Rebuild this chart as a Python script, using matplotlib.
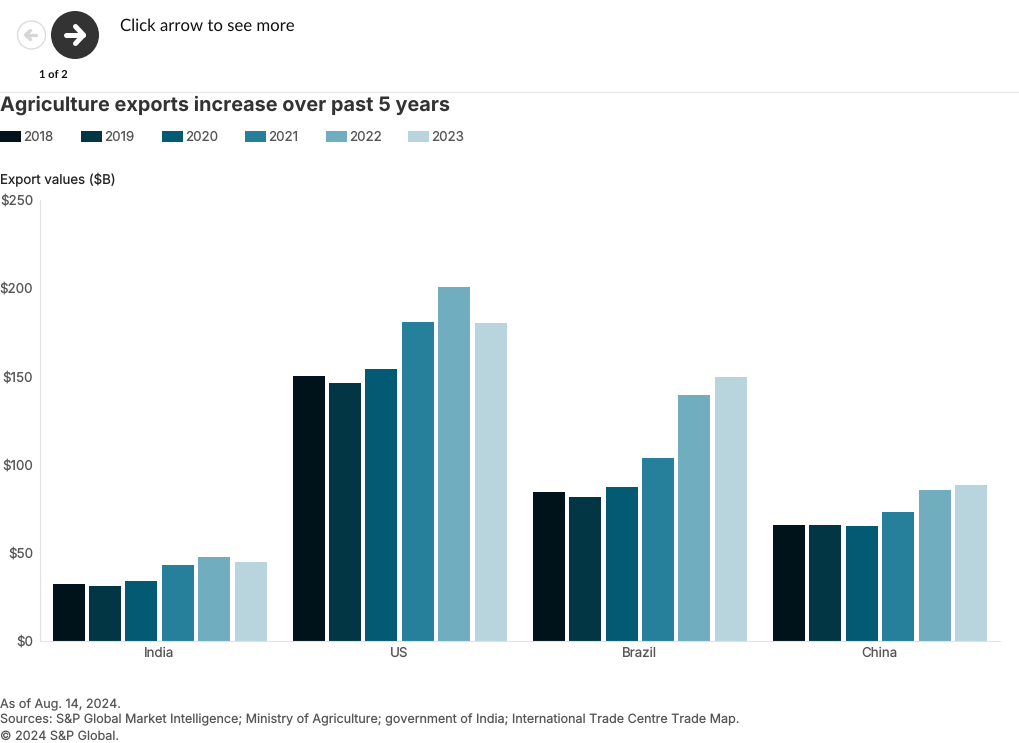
import numpy as np
import matplotlib
matplotlib.use('Agg')
import matplotlib.pyplot as plt
from matplotlib.patches import Circle, Rectangle

# ----- Data -----
countries = ['India', 'US', 'Brazil', 'China']
years = ['2018', '2019', '2020', '2021', '2022', '2023']
v2018 = [32.3, 149.8, 84.5, 65.7]
v2019 = [31.0, 146.0, 81.3, 65.7]
v2020 = [33.7, 154.0, 87.0, 65.0]
v2021 = [43.0, 180.5, 103.4, 73.0]
v2022 = [47.5, 200.3, 139.5, 85.6]
v2023 = [44.7, 180.0, 149.5, 88.3]
series = [v2018, v2019, v2020, v2021, v2022, v2023]
colors = ['#00131b', '#023645', '#025a73', '#26809c', '#6fadbf', '#b8d5de']
y_ticks = [0, 50, 100, 150, 200, 250]

W, H = 1020, 743
plt.rcParams['font.family'] = ['Inter', 'DejaVu Sans']
plt.rcParams['text.hinting'] = 'none'
fig = plt.figure(figsize=(W / 100, H / 100), dpi=100)

# ----- Bars -----
ax = fig.add_axes([39.5 / W, 1 - 641 / H, 960.5 / W, 441.5 / H])
x = np.arange(len(countries))
step = 36.4 / 240
width = 32 / 240
for i, vals in enumerate(series):
    ax.bar(x + (i - 2.5) * step, vals, width=width, color=colors[i], zorder=2)
ax.set_xlim(-0.5, 3.5)
ax.set_ylim(0, 250)
ax.set_xticks(x, countries)
ax.set_yticks(y_ticks, [f'${t}' for t in y_ticks])
ax.tick_params(axis='both', length=0, labelsize=9.6, labelcolor='#555555')
ax.tick_params(axis='x', pad=4)
ax.tick_params(axis='y', pad=4.5)
for s in ['top', 'right']:
    ax.spines[s].set_visible(False)
ax.spines['left'].set_color('#e2e2e2')
ax.spines['bottom'].set_color('#dde3e6')
ax.spines['left'].set_linewidth(0.8)
ax.spines['bottom'].set_linewidth(0.8)

# ----- Page overlay in pixel coordinates -----
page = fig.add_axes([0, 0, 1, 1], zorder=5)
page.set_xlim(0, W)
page.set_ylim(H, 0)
page.axis('off')

# previous button
page.add_patch(Circle((31.5, 35), 14, fc='white', ec='#dcdcdc', lw=1))
page.plot([26, 36], [35, 35], color='#d6d6d6', lw=2.4, solid_capstyle='round')
page.plot([30.5, 25.5, 30.5], [30.5, 35, 39.5], color='#d6d6d6', lw=2.4,
          solid_capstyle='round', solid_joinstyle='round')
# next button
page.add_patch(Circle((75, 35), 24, fc='#333333', ec='none'))
page.plot([66, 83], [35, 35], color='white', lw=3.6, solid_capstyle='round')
page.plot([75.5, 83.5, 75.5], [26.5, 35, 43.5], color='white', lw=3.6,
          solid_capstyle='round', solid_joinstyle='round')

page.text(53, 74.5, '1 of 2', ha='center', va='center', fontsize=8, fontweight='bold',
          color='#111111', family=['Lato', 'DejaVu Sans'])
page.text(120, 26, 'Click arrow to see more', ha='left', va='center', fontsize=12.1,
          color='#111111', family=['Lato', 'DejaVu Sans'])
page.plot([0, W], [92, 92], color='#e8e8e8', lw=0.9)
page.text(0, 105, 'Agriculture exports increase over past 5 years', ha='left', va='center',
          fontsize=14.3, fontweight='bold', color='#333333')

# legend drawn by hand to keep the uneven spacing
legend_x = [0, 81, 162, 245, 326, 408]
for lx, yr, c in zip(legend_x, years, colors):
    page.add_patch(Rectangle((lx, 131), 21, 11, fc=c, ec='none'))
    page.text(lx + 23.5, 137, yr, ha='left', va='center', fontsize=9.6, color='#555555')

page.text(0, 180, 'Export values ($B)', ha='left', va='center', fontsize=9.55, color='#222222')

for yy, line in zip([704.5, 720, 736],
                    ['As of Aug. 14, 2024.',
                     'Sources: S&P Global Market Intelligence; Ministry of Agriculture; government of India; International Trade Centre Trade Map.',
                     '© 2024 S&P Global.']):
    page.text(0, yy, line, ha='left', va='center', fontsize=9.05, color='#555555')

fig.savefig('out.png', dpi=100)
